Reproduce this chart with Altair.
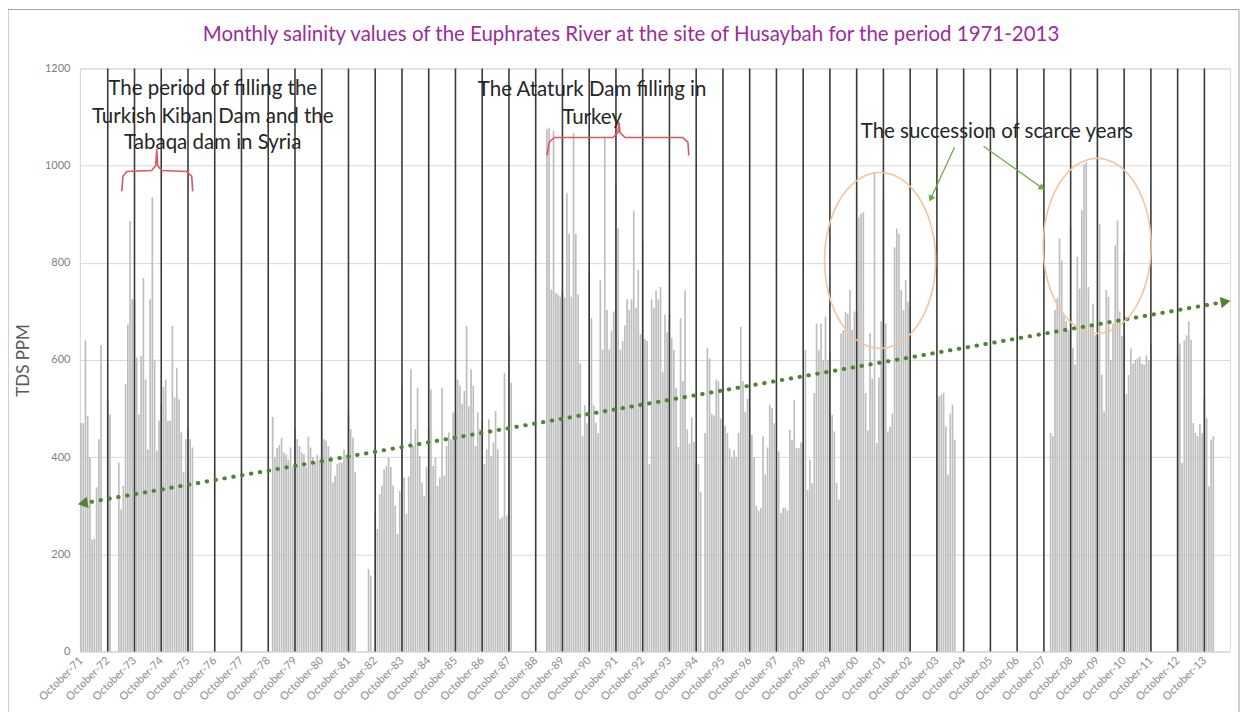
import json
import altair as alt
import numpy as np
import pandas as pd

N = None
# Monthly TDS (ppm), one row per water year (October .. September)
tds_1971_1979 = [
    [470, 470, 640, 485, 400, 230, 232, 338, 437, 631, N, N],      # Oct-71
    [516, 488, N, N, N, 389, 293, 341, 550, 673, 886, 725],        # Oct-72
    [725, 605, 488, 608, 769, 560, 416, 725, 935, 601, 413, 475],  # Oct-73
    [509, 545, 560, 475, 475, 670, 523, 584, 519, 451, 369, 437],  # Oct-74
    [458, 437, 420, N, N, N, N, N, N, N, N, N],                    # Oct-75
    [N, N, N, N, N, N, N, N, N, N, N, N],                          # Oct-76
    [N, N, N, N, N, N, N, N, N, N, N, N],                          # Oct-77
    [N, N, 483, 400, 419, 425, 440, 410, 405, 395, 420, 380],      # Oct-78
    [458, 437, 423, 410, 406, 380, 442, 420, 400, 390, 405, 395],  # Oct-79
]
tds_1980_1989 = [
    [533, 437, 434, 423, 403, 348, 362, 386, 389, 389, 416, 405],  # Oct-80
    [488, 458, 440, 369, N, N, N, N, N, 170, 156, N],              # Oct-81
    [286, 252, 324, 341, 375, 382, 399, 380, 341, 300, 242, 330],  # Oct-82
    [543, 358, 283, 360, 581, 423, 458, 543, 403, 348, 320, 380],  # Oct-83
    [461, 540, 382, 399, 341, 358, 543, 362, 423, 451, 437, 492],  # Oct-84
    [492, 560, 547, 509, 536, 670, 505, 581, 547, 423, 492, 458],  # Oct-85
    [475, 386, 416, 478, 403, 430, 495, 416, 273, 276, 574, 280],  # Oct-86
    [656, 553, N, N, N, N, N, N, N, N, N, N],                      # Oct-87
    [N, N, N, N, N, 1075, 1078, 745, 1072, 738, 735, 730],         # Oct-88
    [743, 728, 943, 860, 730, 1067, 860, 735, 593, 443, 507, 470], # Oct-89
]
tds_1990_1999 = [
    [793, 686, 507, 471, 450, 764, 621, 1057, 703, 622, 660, 700], # Oct-90
    [960, 871, 621, 639, 671, 725, 703, 725, 907, 707, 785, 653],  # Oct-91
    [843, 643, 639, 386, 725, 707, 743, 725, 750, 575, 693, 657],  # Oct-92
    [693, 646, 621, 543, 421, 686, 557, 743, 457, 428, 482, 432],  # Oct-93
    [389, 386, 329, N, 450, 625, 603, 489, 486, 560, 557, 480],    # Oct-94
    [557, 464, 450, 418, 400, 414, 400, 450, 668, 557, 493, 520],  # Oct-95
    [600, 446, 400, 300, 290, 295, 443, 364, 420, 508, 501, 470],  # Oct-96
    [354, 412, 285, 296, 296, 290, 456, 436, 518, 419, 419, 430],  # Oct-97
    [429, 620, 333, 395, 347, 532, 675, 620, 675, 600, 689, 600],  # Oct-98
    [617, 487, 453, 347, 313, 655, 662, 699, 695, 744, 662, 700],  # Oct-99
]
tds_2000_2009 = [
    [700, 894, 901, 904, 532, 455, 655, 562, 986, 429, 564, 680],  # Oct-00
    [932, 675, 453, 463, 490, 832, 870, 860, 744, 703, 764, 720],  # Oct-01
    [709, N, N, N, N, N, N, N, N, N, N, N],                        # Oct-02
    [518, 525, 528, 532, 463, 364, 490, 508, 436, N, N, N],        # Oct-03
    [N, N, N, N, N, N, N, N, N, N, N, N],                          # Oct-04
    [N, N, N, N, N, N, N, N, N, N, N, N],                          # Oct-05
    [N, N, N, N, N, N, N, N, N, N, N, N],                          # Oct-06
    [N, N, N, 450, 443, 703, 727, 850, 805, 692, 680, 660],        # Oct-07
    [874, 624, 590, 812, 747, 908, 1003, 1007, 750, 675, 716, 651],# Oct-08
    [651, 880, 569, 494, 744, 730, 600, 675, 836, 887, 700, 650],  # Oct-09
]
tds_2010_2013 = [
    [822, 530, 569, 624, 593, 600, 603, 607, 593, 590, 610, 600],  # Oct-10
    [631, N, N, N, N, N, N, N, N, N, N, N],                        # Oct-11
    [610, 634, 388, 640, 651, 679, 641, 470, 450, 443, 467, 450],  # Oct-12
    [521, 480, 340, 436, 443, N, N, N, N, N, N, N],                # Oct-13
]

october_labels = ["October-%02d" % (y % 100) for y in range(1971, 2014)]
y_ticks = [0, 200, 400, 600, 800, 1000, 1200]

# linear trend (start / end value)
trend_idx = [0.8, 513.5]
trend_val = [305, 720]

title_text = ("Monthly salinity values of the Euphrates River at the site of "
              "Husaybah for the period 1971-2013")

# ---------------------------------------------------------------- tables
rows = tds_1971_1979 + tds_1980_1989 + tds_1990_1999 + tds_2000_2009 + tds_2010_2013
recs = []
for yi, row in enumerate(rows):
    for m, v in enumerate(row):
        if v is not None:
            recs.append({"idx": 12 * yi + m, "val": v})
bars_df = pd.DataFrame(recs)
n_months = 12 * len(rows)

oct_df = pd.DataFrame({"idx": [12 * k for k in range(1, len(rows))]})
trend_df = pd.DataFrame({"idx": trend_idx, "val": trend_val})

FONT = "Lato"
xscale = alt.Scale(domain=[-0.5, n_months - 0.5], nice=False, zero=False)
yscale = alt.Scale(domain=[0, 1200], nice=False)

label_expr = json.dumps(october_labels) + "[floor(datum.value / 12)]"
xaxis = alt.Axis(values=[12 * k for k in range(len(october_labels))], labelExpr=label_expr,
                 labelAngle=315, labelAlign="right", labelBaseline="middle",
                 labelFontSize=11, labelColor="#8c8c8c", labelFont=FONT,
                 grid=False, ticks=False, domainColor="#d9d9d9", labelPadding=7,
                 labelOverlap=False, labelBound=False, title=None)
yaxis = alt.Axis(values=y_ticks, format="d", grid=True, gridColor="#d9d9d9", ticks=False,
                 domainColor="#d9d9d9", labelColor="#7f7f7f", labelFontSize=11,
                 labelFont=FONT, labelPadding=10, title="TDS PPM", titleFontSize=17,
                 titleColor="#595959", titleFontWeight="normal", titleFont=FONT,
                 titlePadding=12)


def X(f):
    return alt.X(f, type="quantitative", scale=xscale, axis=xaxis)


def Y(f):
    return alt.Y(f, type="quantitative", scale=yscale, axis=yaxis)


bars = alt.Chart(bars_df).transform_calculate(
    x0="datum.idx - 0.37", x1="datum.idx + 0.37"
).mark_bar(color="#bdbdbd").encode(
    x=X("x0"), x2="x1:Q", y=Y("val"), y2=alt.datum(0)
)

oct_rules = alt.Chart(oct_df).mark_rule(color="#3a3a3a", strokeWidth=1.6).encode(
    x=X("idx"), y=alt.datum(0), y2=alt.datum(1200)
)

trend = alt.Chart(trend_df).mark_line(
    color="#548235", strokeWidth=4, strokeDash=[0.5, 8.5], strokeCap="round"
).encode(x=X("idx"), y=Y("val"))

trend_heads = alt.Chart(pd.DataFrame({
    "idx": trend_idx, "val": trend_val, "ang": [260, 80]
})).mark_point(shape="triangle-up", filled=True, size=130, color="#548235",
               opacity=1).encode(x=X("idx"), y=Y("val"), angle=alt.Angle("ang:Q", scale=None))

# annotation texts
ann_df = pd.DataFrame({
    "idx": [59.1, 59.1, 59.1, 229.3, 229.3, 410.9],
    "val": [1157, 1101, 1046, 1155, 1099, 1070],
    "txt": ["The period of filling the", "Turkish Kiban Dam and the", "Tabaqa dam in Syria",
            "The Ataturk Dam filling in", "Turkey", "The succession of scarce years"],
})
ann = alt.Chart(ann_df).mark_text(font=FONT, fontSize=20.5, color="#262626",
                                  align="center", baseline="middle").encode(
    x=X("idx"), y=Y("val"), text="txt:N")

# red curly brackets
br1_i = [18.3, 18.8, 20.6, 31.7, 33.5, 34.0, 34.4, 36.2, 47.4, 49.7, 50.1]
br1_v = [947, 978, 988, 990, 1000, 1034, 1000, 990, 988, 978, 947]
br2_i = [209.1, 210.0, 212.3, 238.7, 240.9, 241.4, 241.8, 244.1, 270.0, 272.3, 272.7]
br2_v = [1021, 1048, 1058, 1058, 1068, 1089, 1068, 1058, 1058, 1048, 1021]
br_df = pd.DataFrame({
    "idx": br1_i + br2_i, "val": br1_v + br2_v,
    "g": ["a"] * len(br1_i) + ["b"] * len(br2_i),
    "o": list(range(len(br1_i))) + list(range(len(br2_i))),
})
brackets = alt.Chart(br_df).mark_line(color="#e0575c", strokeWidth=1.6).encode(
    x=X("idx"), y=Y("val"), detail="g:N", order="o:Q")

# orange ellipses (shape outline)
t = np.linspace(0, 2 * np.pi, 91)
ell = []
for g, (cx, cy, rx, ry) in enumerate([(358.5, 805, 24.9, 181), (455.9, 835, 24.2, 180)]):
    for o, tt in enumerate(t):
        ell.append({"idx": cx + rx * np.cos(tt), "val": cy + ry * np.sin(tt), "g": g, "o": o})
ellipses = alt.Chart(pd.DataFrame(ell)).mark_line(color="#f2c4a0", strokeWidth=1.6).encode(
    x=X("idx"), y=Y("val"), detail="g:N", order="o:Q")

# green pointer arrows
arr_df = pd.DataFrame({"idx": [391.9, 404.9], "val": [1038, 1040],
                       "idx2": [381.2, 431.2], "val2": [932, 954], "ang": [206, 125]})
arrows = alt.Chart(arr_df).mark_rule(color="#70ad47", strokeWidth=1.3).encode(
    x=X("idx"), y=Y("val"), x2="idx2:Q", y2="val2:Q")
arrow_heads = alt.Chart(arr_df).mark_point(shape="triangle-up", filled=True, size=55,
                                           color="#70ad47", opacity=1).encode(
    x=X("idx2"), y=Y("val2"), angle=alt.Angle("ang:Q", scale=None))

# chart title (drawn as text so the outer frame does not push it away)
title = alt.Chart(pd.DataFrame({"t": [title_text]})).mark_text(
    font=FONT, fontSize=20.5, color="#9b2d9b", align="center", baseline="middle",
    clip=False).encode(x=alt.value(552), y=alt.value(-34), text="t:N")

frame = alt.Chart(pd.DataFrame({"a": [0]})).mark_rect(
    fillOpacity=0, stroke="#a0a0a0", strokeWidth=1, clip=False).encode(
    x=alt.value(-72), x2=alt.value(1161), y=alt.value(-59), y2=alt.value(700))

chart = alt.layer(
    bars, oct_rules, trend, trend_heads, ellipses, brackets, arrows, arrow_heads, ann,
    title, frame
).properties(
    width=1152, height=584,
    autosize=alt.AutoSizeParams(type="none"),
    padding={"left": 72, "top": 60, "right": 12, "bottom": 60},
).configure_view(stroke=None).configure(background="white")

chart.save("out.html", embed_options={"renderer": "svg", "actions": False})
